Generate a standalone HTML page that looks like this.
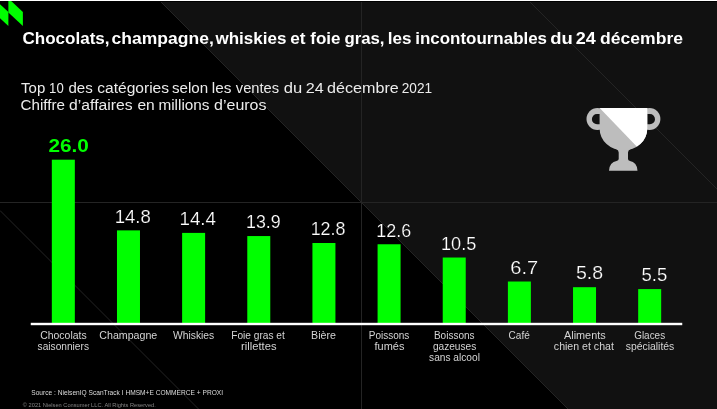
<!DOCTYPE html>
<html><head><meta charset="utf-8"><title>Chart</title>
<style>html,body{margin:0;padding:0;background:#000;overflow:hidden}svg{display:block;will-change:transform}text{font-family:"Liberation Sans",sans-serif}</style>
</head><body>
<svg width="717" height="409" viewBox="0 0 717 409">
<rect x="0" y="0" width="717" height="409" fill="#000"/>
<polygon points="159,0 717,0 717,409 568,409" fill="#111111"/>
<line x1="159" y1="0" x2="568" y2="409" stroke="#242424" stroke-width="1"/>
<line x1="528" y1="0" x2="937" y2="409" stroke="#242424" stroke-width="1"/>
<line x1="0" y1="210.5" x2="198.5" y2="409" stroke="#242424" stroke-width="1"/>
<rect x="361" y="0" width="1" height="409" fill="#242424"/>
<rect x="0" y="202" width="717" height="1" fill="#242424"/>
<rect x="0" y="1" width="717" height="1" fill="#000"/>
<polygon points="8.4,-1.6 22.9,12.1 22.9,26.1 8.4,12.4" fill="#00ff00"/>
<polygon points="-6.1,-1.6 8.4,12.1 8.4,26.1 -6.1,12.4" fill="#00ff00"/>
<rect x="0" y="0" width="717" height="1" fill="#fff"/>
<g id="trophy">
<circle cx="597.4" cy="119" r="10.9" fill="#bdbdbd"/><circle cx="649.5" cy="119" r="10.9" fill="#bdbdbd"/>
<path fill="#111111" d="M600,114.1 H597 A5.1,5.1 0 0 0 597,124.3 H600 Z M647,114.1 H649.9 A5.1,5.1 0 0 1 649.9,124.3 H647 Z"/>
<path id="cupshape" fill="#bdbdbd" d="M599.6,108 H647.3 V128.5 A23.85,22 0 0 1 599.6,128.5 Z"/>
<clipPath id="cup"><path d="M599.6,108 H647.3 V128.5 A23.85,22 0 0 1 599.6,128.5 Z"/></clipPath>
<polygon clip-path="url(#cup)" points="599.7,108 660,108 660,170.7" fill="#fff"/>
<path fill="#bdbdbd" d="M616.2,149 Q618.7,150 618.7,152.5 V159 Q618.7,160.8 616.5,160.9 A8,9.8 0 0 0 609,170.7 H637.5 A8,9.8 0 0 0 630,160.9 Q628,160.8 628,159 V152.5 Q628,150 630.5,149 Z"/>
</g>
<rect x="51.83" y="159.68" width="23" height="164.12" fill="#00ff00"/>
<rect x="116.98" y="230.38" width="23" height="93.43" fill="#00ff00"/>
<rect x="182.12" y="232.90" width="23" height="90.90" fill="#00ff00"/>
<rect x="247.28" y="236.06" width="23" height="87.74" fill="#00ff00"/>
<rect x="312.43" y="243.00" width="23" height="80.80" fill="#00ff00"/>
<rect x="377.58" y="244.26" width="23" height="79.54" fill="#00ff00"/>
<rect x="442.73" y="257.52" width="23" height="66.28" fill="#00ff00"/>
<rect x="507.88" y="281.51" width="23" height="42.29" fill="#00ff00"/>
<rect x="573.03" y="287.19" width="23" height="36.61" fill="#00ff00"/>
<rect x="638.18" y="289.08" width="23" height="34.72" fill="#00ff00"/>
<rect x="30.75" y="322.8" width="651.5" height="2.4" fill="#fff"/>
<text x="22.48" y="43.50" font-size="15.6" font-weight="bold" fill="#fff" textLength="87.09" lengthAdjust="spacingAndGlyphs">Chocolats,</text>
<text x="111.64" y="43.50" font-size="15.6" font-weight="bold" fill="#fff" textLength="102.13" lengthAdjust="spacingAndGlyphs">champagne,</text>
<text x="215.50" y="43.50" font-size="15.6" font-weight="bold" fill="#fff" textLength="70.85" lengthAdjust="spacingAndGlyphs">whiskies</text>
<text x="290.26" y="43.50" font-size="15.6" font-weight="bold" fill="#fff" textLength="15.30" lengthAdjust="spacingAndGlyphs">et</text>
<text x="310.30" y="43.50" font-size="15.6" font-weight="bold" fill="#fff" textLength="30.21" lengthAdjust="spacingAndGlyphs">foie</text>
<text x="344.42" y="43.50" font-size="15.6" font-weight="bold" fill="#fff" textLength="40.13" lengthAdjust="spacingAndGlyphs">gras,</text>
<text x="387.77" y="43.50" font-size="15.6" font-weight="bold" fill="#fff" textLength="23.69" lengthAdjust="spacingAndGlyphs">les</text>
<text x="415.28" y="43.50" font-size="15.6" font-weight="bold" fill="#fff" textLength="131.77" lengthAdjust="spacingAndGlyphs">incontournables</text>
<text x="550.16" y="43.50" font-size="15.6" font-weight="bold" fill="#fff" textLength="22.51" lengthAdjust="spacingAndGlyphs">du</text>
<text x="575.78" y="43.50" font-size="15.6" font-weight="bold" fill="#fff" textLength="20.07" lengthAdjust="spacingAndGlyphs">24</text>
<text x="600.09" y="43.50" font-size="15.6" font-weight="bold" fill="#fff" textLength="82.92" lengthAdjust="spacingAndGlyphs">décembre</text>
<text x="21.09" y="93.10" font-size="14" fill="#ececec" textLength="24.13" lengthAdjust="spacingAndGlyphs">Top</text>
<text x="49.09" y="93.10" font-size="14" fill="#ececec" textLength="14.61" lengthAdjust="spacingAndGlyphs">10</text>
<text x="68.47" y="93.10" font-size="14" fill="#ececec" textLength="24.26" lengthAdjust="spacingAndGlyphs">des</text>
<text x="97.29" y="93.10" font-size="14" fill="#ececec" textLength="71.77" lengthAdjust="spacingAndGlyphs">catégories</text>
<text x="172.04" y="93.10" font-size="14" fill="#ececec" textLength="36.15" lengthAdjust="spacingAndGlyphs">selon</text>
<text x="211.76" y="93.10" font-size="14" fill="#ececec" textLength="19.64" lengthAdjust="spacingAndGlyphs">les</text>
<text x="235.80" y="93.10" font-size="14" fill="#ececec" textLength="43.21" lengthAdjust="spacingAndGlyphs">ventes</text>
<text x="283.78" y="93.10" font-size="14" fill="#ececec" textLength="18.46" lengthAdjust="spacingAndGlyphs">du</text>
<text x="305.69" y="93.10" font-size="14" fill="#ececec" textLength="17.99" lengthAdjust="spacingAndGlyphs">24</text>
<text x="327.14" y="93.10" font-size="14" fill="#ececec" textLength="71.62" lengthAdjust="spacingAndGlyphs">décembre</text>
<text x="401.72" y="93.10" font-size="14" fill="#ececec" textLength="30.36" lengthAdjust="spacingAndGlyphs">2021</text>
<text x="20.58" y="110.20" font-size="14" fill="#ececec" textLength="44.43" lengthAdjust="spacingAndGlyphs">Chiffre</text>
<text x="69.14" y="110.20" font-size="14" fill="#ececec" textLength="63.52" lengthAdjust="spacingAndGlyphs">d’affaires</text>
<text x="137.45" y="110.20" font-size="14" fill="#ececec" textLength="17.30" lengthAdjust="spacingAndGlyphs">en</text>
<text x="158.47" y="110.20" font-size="14" fill="#ececec" textLength="51.05" lengthAdjust="spacingAndGlyphs">millions</text>
<text x="214.08" y="110.20" font-size="14" fill="#ececec" textLength="52.43" lengthAdjust="spacingAndGlyphs">d’euros</text>
<text x="48.42" y="151.98" font-size="18.4" font-weight="bold" fill="#00ff00" textLength="40.42" lengthAdjust="spacingAndGlyphs">26.0</text>
<text x="114.67" y="222.68" font-size="18.4" fill="#ffffff" textLength="36.12" lengthAdjust="spacingAndGlyphs" stroke="#000" stroke-width="0.2" paint-order="fill stroke">14.8</text>
<text x="179.47" y="225.20" font-size="18.4" fill="#ffffff" textLength="36.56" lengthAdjust="spacingAndGlyphs" stroke="#000" stroke-width="0.2" paint-order="fill stroke">14.4</text>
<text x="246.02" y="228.36" font-size="18.4" fill="#ffffff" textLength="34.63" lengthAdjust="spacingAndGlyphs" stroke="#000" stroke-width="0.2" paint-order="fill stroke">13.9</text>
<text x="310.66" y="235.30" font-size="18.4" fill="#ffffff" textLength="34.83" lengthAdjust="spacingAndGlyphs" stroke="#000" stroke-width="0.2" paint-order="fill stroke">12.8</text>
<text x="376.31" y="236.56" font-size="18.4" fill="#ffffff" textLength="34.85" lengthAdjust="spacingAndGlyphs" stroke="#000" stroke-width="0.2" paint-order="fill stroke">12.6</text>
<text x="441.02" y="249.82" font-size="18.4" fill="#ffffff" textLength="35.27" lengthAdjust="spacingAndGlyphs" stroke="#000" stroke-width="0.2" paint-order="fill stroke">10.5</text>
<text x="510.27" y="273.81" font-size="18.4" fill="#ffffff" textLength="27.95" lengthAdjust="spacingAndGlyphs" stroke="#000" stroke-width="0.2" paint-order="fill stroke">6.7</text>
<text x="575.91" y="279.49" font-size="18.4" fill="#ffffff" textLength="27.19" lengthAdjust="spacingAndGlyphs" stroke="#000" stroke-width="0.2" paint-order="fill stroke">5.8</text>
<text x="641.51" y="281.38" font-size="18.4" fill="#ffffff" textLength="25.80" lengthAdjust="spacingAndGlyphs" stroke="#000" stroke-width="0.2" paint-order="fill stroke">5.5</text>
<text x="40.19" y="338.70" font-size="10.2" fill="#d4d4d4" textLength="46.47" lengthAdjust="spacingAndGlyphs">Chocolats</text>
<text x="37.60" y="349.90" font-size="10.2" fill="#d4d4d4" textLength="51.36" lengthAdjust="spacingAndGlyphs">saisonniers</text>
<text x="99.29" y="338.70" font-size="10.2" fill="#d4d4d4" textLength="58.01" lengthAdjust="spacingAndGlyphs">Champagne</text>
<text x="173.00" y="338.70" font-size="10.2" fill="#d4d4d4" textLength="41.25" lengthAdjust="spacingAndGlyphs">Whiskies</text>
<text x="231.24" y="338.70" font-size="10.2" fill="#d4d4d4" textLength="53.61" lengthAdjust="spacingAndGlyphs">Foie gras et</text>
<text x="241.07" y="349.90" font-size="10.2" fill="#d4d4d4" textLength="35.45" lengthAdjust="spacingAndGlyphs">rillettes</text>
<text x="311.07" y="338.70" font-size="10.2" fill="#d4d4d4" textLength="24.90" lengthAdjust="spacingAndGlyphs">Bière</text>
<text x="368.73" y="338.70" font-size="10.2" fill="#d4d4d4" textLength="40.59" lengthAdjust="spacingAndGlyphs">Poissons</text>
<text x="374.59" y="349.90" font-size="10.2" fill="#d4d4d4" textLength="29.86" lengthAdjust="spacingAndGlyphs">fumés</text>
<text x="433.92" y="338.70" font-size="10.2" fill="#d4d4d4" textLength="40.74" lengthAdjust="spacingAndGlyphs">Boissons</text>
<text x="432.89" y="349.90" font-size="10.2" fill="#d4d4d4" textLength="43.36" lengthAdjust="spacingAndGlyphs">gazeuses</text>
<text x="429.10" y="361.10" font-size="10.2" fill="#d4d4d4" textLength="50.82" lengthAdjust="spacingAndGlyphs">sans alcool</text>
<text x="508.62" y="338.70" font-size="10.2" fill="#d4d4d4" textLength="21.20" lengthAdjust="spacingAndGlyphs">Café</text>
<text x="564.00" y="338.70" font-size="10.2" fill="#d4d4d4" textLength="41.66" lengthAdjust="spacingAndGlyphs">Aliments</text>
<text x="553.85" y="349.90" font-size="10.2" fill="#d4d4d4" textLength="60.01" lengthAdjust="spacingAndGlyphs">chien et chat</text>
<text x="634.19" y="338.70" font-size="10.2" fill="#d4d4d4" textLength="30.92" lengthAdjust="spacingAndGlyphs">Glaces</text>
<text x="625.75" y="349.90" font-size="10.2" fill="#d4d4d4" textLength="48.51" lengthAdjust="spacingAndGlyphs">spécialités</text>
<text x="31.25" y="395.40" font-size="6.7" fill="#dcdcdc" textLength="191.80" lengthAdjust="spacingAndGlyphs">Source : NielsenIQ ScanTrack I HMSM+E COMMERCE + PROXI</text>
<text x="22.85" y="407.00" font-size="5.8" fill="#858585" textLength="133.00" lengthAdjust="spacingAndGlyphs">© 2021 Nielsen Consumer LLC. All Rights Reserved.</text>
</svg>
</body></html>
